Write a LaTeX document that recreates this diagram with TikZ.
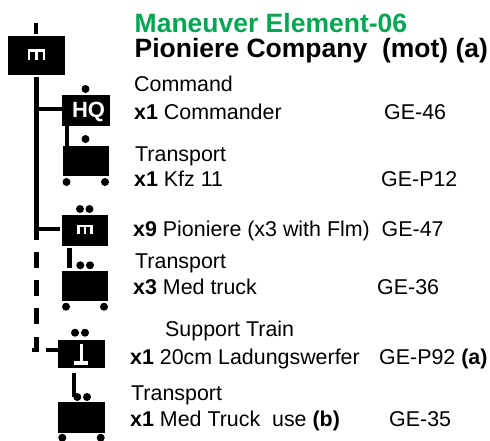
\documentclass[tikz,border=0pt]{standalone}
\usepackage{fontspec}
\setmainfont{Liberation Sans}
\definecolor{headgreen}{RGB}{0,166,81}
\tikzset{
  x=1pt,y=-1pt,
  unit/.style={fill=black,draw=none,inner sep=0pt,outer sep=0pt},
  dot/.style={circle,fill=black,inner sep=0pt,minimum size=8pt},
  line/.style={line width=4.2pt},
  thinline/.style={line width=3.4pt},
  lab/.style={anchor=base west,inner sep=0pt,font=\fontsize{21.4}{24}\selectfont},
  head/.style={anchor=base west,inner sep=0pt,font=\fontsize{26.5}{28}\selectfont\bfseries},
}
% centre x, top y, half width, height
\newcommand{\mglyph}[4]{%
  \draw[white,line width=2.2pt] (#1-#3,#2+#4) -- (#1-#3,#2) -- (#1+#3,#2) -- (#1+#3,#2+#4) (#1,#2) -- (#1,#2+#4);}
\begin{document}
\begin{tikzpicture}
\useasboundingbox (0,0) rectangle (490,440);
% top unit
\node[unit,minimum width=57.5pt,minimum height=38.7pt] (co) at (36.25,55.35) {};
\mglyph{36.5}{50.5}{7.5}{9}
\coordinate (t0) at (36,23); \coordinate (t1) at (36,34);
\draw[line] (t0) -- (t1);
\coordinate (s0) at (36.5,77); \coordinate (s1) at (36.5,240);
\draw[line] (s0) -- (s1);
% HQ
\node[unit,minimum width=48pt,minimum height=31pt] (hq) at (86,110.5) {};
\node[text=white,inner sep=0pt,font=\fontsize{22}{22}\selectfont\bfseries] (hqt) at (88.5,111.5) {HQ};
\coordinate (j1) at (36.5,109);
\draw[thinline] (j1) -- (j1-|hq.west);
\node[dot] (d1) at (85.5,89) {};
\node[unit,minimum width=46.5pt,minimum height=30pt] (tr1) at (85.75,161) {};
\draw[line] (67,126) -- (67,146);
\node[dot] (d2) at (85.5,139) {};
\node[dot] (w1) at (66.5,182) {}; \node[dot] (w2) at (105,182) {};
% maneuver
\node[unit,minimum width=46.6pt,minimum height=30.7pt] (pi) at (85,230.35) {};
\mglyph{85}{226}{6.5}{7.5}
\node[dot] (d3) at (80,209) {}; \node[dot] (d4) at (89.5,209) {};
\coordinate (j2) at (36.5,229); \coordinate (j2e) at (60,229);
\draw[thinline] (j2) -- (j2e);
% truck 2
\draw[line] (69.5,248) -- (69.5,268);
\node[dot] (d5) at (80.3,265.3) {}; \node[dot] (d6) at (90,265.3) {};
\node[unit,minimum width=46.6pt,minimum height=30.3pt] (tr2) at (85,285.85) {};
\node[dot] (w3) at (66,306.7) {}; \node[dot] (w4) at (104,306.7) {};
% dashed trunk
\draw[line] (36.5,252) -- (36.5,268);
\draw[line] (36.5,280) -- (36.5,296);
\draw[line] (36.5,308) -- (36.5,324);
\draw[line] (36.5,337) -- (36.5,352);
\draw[line width=2pt] (33.4,348) -- (33.4,352);
% support
\node[unit,minimum width=46.4pt,minimum height=28pt] (su) at (81.5,354) {};
\coordinate (j3) at (46,350); \coordinate (j3e) at (58.3,350);
\draw[thinline] (j3) -- (j3e);
\draw[white,line width=3.3pt] (81.6,344) -- (81.6,362);
\draw[white,line width=3.8pt] (74,363) -- (87.7,363);
\node[dot] (d7) at (75,332.7) {}; \node[dot] (d8) at (85,332.7) {};
% truck 3
\draw[line] (74,373) -- (74,397);
\node[dot] (d9) at (77.3,397) {}; \node[dot] (d10) at (87,397) {};
\node[unit,minimum width=47pt,minimum height=30.4pt] (tr3) at (81.8,417.5) {};
\node[dot] (w5) at (62.3,437.7) {}; \node[dot] (w6) at (100.7,437.7) {};
% text
\node[head,text=headgreen] (h1) at (134.5,32) {Maneuver Element-06};
\node[head] (h2) at (134.5,57) {Pioniere Company\ \ (mot) (a)};
\node[lab] (a1) at (134,91) {Command};
\node[lab] (a2) at (134,119) {\textbf{x1} Commander};
\node[lab] (a3) at (384,119) {GE-46};
\node[lab] (b1) at (135,161) {Transport};
\node[lab] (b2) at (134,186) {\textbf{x1} Kfz 11};
\node[lab] (b3) at (381,186) {GE-P12};
\node[lab] (c2) at (133,236) {\textbf{x9} Pioniere (x3 with Flm)};
\node[lab] (c3) at (381.5,236) {GE-47};
\node[lab] (e1) at (135,268) {Transport};
\node[lab] (e2) at (133,294) {\textbf{x3} Med truck};
\node[lab] (e3) at (377,294) {GE-36};
\node[lab] (f1) at (165,336) {Support Train};
\node[lab] (f2) at (130,364) {\textbf{x1} 20cm Ladungswerfer};
\node[lab] (f3) at (379,364) {GE-P92 \textbf{(a)}};
\node[lab] (g1) at (131,400) {Transport};
\node[lab] (g2) at (130,426) {\textbf{x1} Med Truck\ \ use \textbf{(b)}};
\node[lab] (g3) at (389,426) {GE-35};
\end{tikzpicture}
\end{document}
